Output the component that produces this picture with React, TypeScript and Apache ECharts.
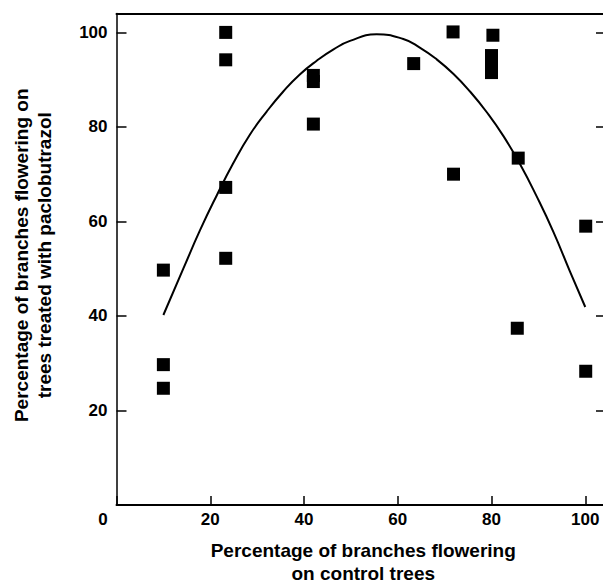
import React, { useEffect, useRef } from "react";
import * as echarts from "echarts";

// Scatter points (x = % flowering on control trees, y = % flowering on treated trees)
const pointX = [10, 10, 10, 23.3, 23.3, 23.3, 23.3, 42, 42, 42, 63.4, 71.8, 71.9, 80.3, 80, 80, 80, 85.7, 85.5, 100.1, 100.1];
const pointY = [49.7, 29.7, 24.7, 100, 94.2, 67.2, 52.2, 90.9, 89.6, 80.6, 93.4, 100.1, 70.0, 99.4, 95.1, 93.3, 91.5, 73.4, 37.4, 59.0, 28.3];

// Fitted curve
const curveX = [10, 14.25, 17.8, 21.38, 24.9, 28.48, 32.0, 35.58, 39.1, 42.71, 46.3, 49.81, 55.5, 61.18, 64.7, 68.31, 71.9, 75.41, 79.0, 82.52, 86.1, 89.64, 93.2, 96.75, 100];
const curveY = [40.2, 50.0, 58.1, 65.5, 72.3, 78.4, 83.2, 87.5, 91.1, 94.0, 96.4, 98.2, 99.6, 98.6, 96.8, 94.3, 91.2, 87.5, 83.1, 78.1, 72.1, 65.3, 57.8, 49.4, 41.9];

const xTitle = "Percentage of branches flowering\non control trees";
const yTitle = "Percentage of branches flowering on\ntrees treated with paclobutrazol";

const FONT = "'Liberation Sans', Arial, Helvetica, sans-serif";

export default function App() {
  const ref = useRef<HTMLDivElement>(null);
  useEffect(() => {
    if (!ref.current) return;
    const chart = echarts.init(ref.current, null, { renderer: "svg" });
    const labelStyle = { fontSize: 17, fontWeight: "bold", color: "#000", fontFamily: FONT };
    const nameStyle = { fontSize: 19, fontWeight: "bold", color: "#000", fontFamily: FONT, lineHeight: 23, align: "center" };
    const option: any = {
      animation: false,
      backgroundColor: "#fff",
      grid: { left: 116.5, top: 13.5, width: 487.5, height: 491.5, outerBoundsMode: "none", containLabel: false },
      xAxis: [
        {
          type: "value",
          min: 0,
          max: 104,
          interval: 20,
          axisLine: { show: true, onZero: false, lineStyle: { color: "#000", width: 2 } },
          axisTick: { show: true, inside: true, length: 9, lineStyle: { color: "#000", width: 1.5 } },
          splitLine: { show: false },
          axisLabel: {
            ...labelStyle,
            margin: 6,
            formatter: (v: number) => (v === 0 ? "{o|0}" : v % 20 === 0 ? String(v) : ""),
            rich: { o: { ...labelStyle, padding: [0, 27, 0, 0] } },
          },
          name: xTitle,
          nameLocation: "middle",
          nameGap: 34,
          nameTextStyle: { ...nameStyle, padding: [0, 0, 0, 6] },
        },
        {
          type: "value",
          position: "top",
          min: 0,
          max: 104,
          interval: 20,
          axisLine: { show: true, onZero: false, lineStyle: { color: "#000", width: 2 } },
          axisTick: { show: false },
          axisLabel: { show: false },
          splitLine: { show: false },
        },
      ],
      yAxis: [
        {
          type: "value",
          min: 0,
          max: 104,
          interval: 20,
          axisLine: { show: true, onZero: false, lineStyle: { color: "#000", width: 1.5 } },
          axisTick: { show: true, inside: true, length: 10, lineStyle: { color: "#000", width: 1.5 } },
          splitLine: { show: false },
          axisLabel: {
            ...labelStyle,
            margin: 9,
            formatter: (v: number) => (v !== 0 && v % 20 === 0 ? String(v) : ""),
          },
          name: yTitle,
          nameLocation: "middle",
          nameGap: 61,
          nameTextStyle: { ...nameStyle, padding: [0, 0, 0, 8] },
        },
        {
          type: "value",
          position: "right",
          min: 0,
          max: 104,
          interval: 20,
          axisLine: { show: true, onZero: false, lineStyle: { color: "rgba(0,0,0,0)", width: 0 } },
          axisTick: { show: true, inside: true, length: 8, lineStyle: { color: "#000", width: 1.5 } },
          axisLabel: { show: false },
          splitLine: { show: false },
        },
      ],
      series: [
        {
          type: "line",
          data: curveX.map((x, i) => [x, curveY[i]]),
          showSymbol: false,
          smooth: 0.5,
          lineStyle: { color: "#000", width: 2 },
          silent: true,
        },
        {
          type: "scatter",
          symbol: "rect",
          symbolSize: 13,
          itemStyle: { color: "#000", opacity: 1 },
          data: pointX.map((x, i) => [x, pointY[i]]),
        },
      ],
    };
    chart.setOption(option);
    return () => chart.dispose();
  }, []);
  return (
    <div
      ref={ref}
      style={{ position: "fixed", left: 0, top: 0, width: 603, height: 584, background: "#fff" }}
    />
  );
}
